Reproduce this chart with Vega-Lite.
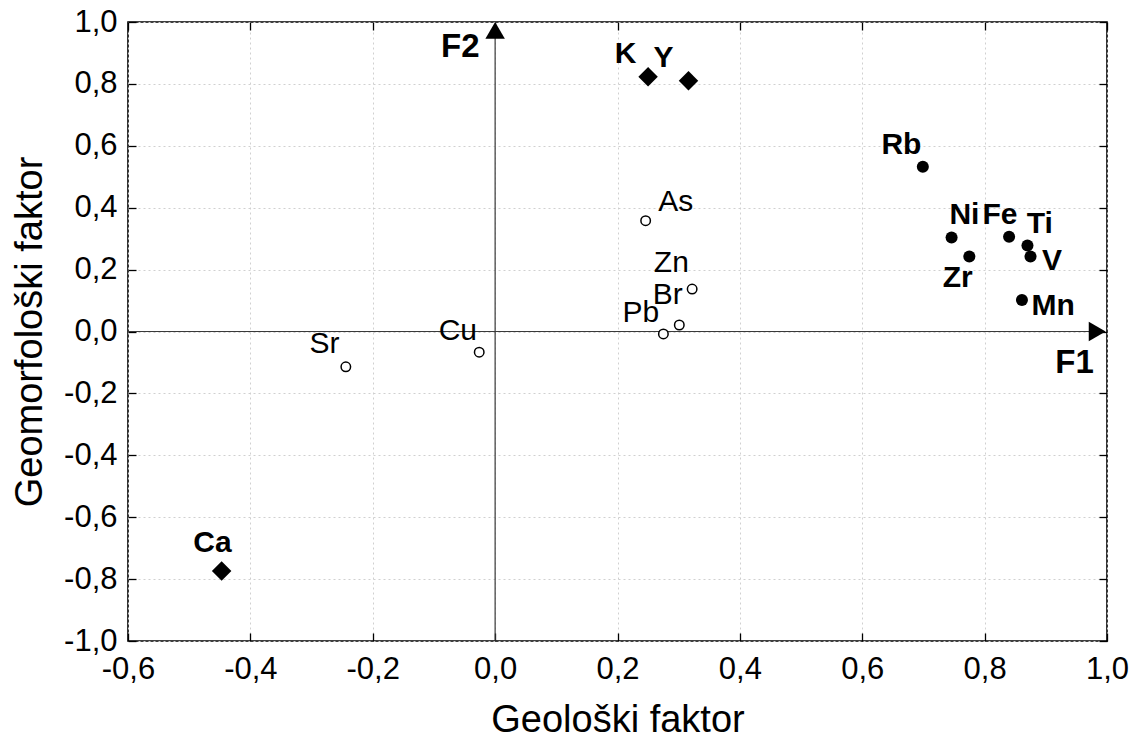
{
  "$schema": "https://vega.github.io/schema/vega-lite/v6.json",
  "width": 979,
  "height": 619,
  "autosize": {"type": "none"},
  "padding": {"left": 128, "top": 22, "right": 23, "bottom": 106},
  "background": "white",
  "config": {
    "view": {"stroke": "#000", "strokeWidth": 1.6},
    "font": "Liberation Sans",
    "locale": {"number": {"decimal": ",", "thousands": ".", "grouping": [3], "currency": ["", ""], "minus": "-"}},
    "axis": {"domain": false, "tickColor": "#000", "tickWidth": 1.3, "tickSize": -8, "labelColor": "#000", "titleColor": "#000", "labelFont": "Liberation Sans", "titleFont": "Liberation Sans", "labelFontSize": 31, "titleFontSize": 38, "titleFontWeight": "normal"}
  },
  "datasets": {
    "elements": [
      {"el": "K", "f1": 0.250, "f2": 0.823, "group": "diamond", "lx": 0.213, "ly": 0.898},
      {"el": "Y", "f1": 0.316, "f2": 0.810, "group": "diamond", "lx": 0.275, "ly": 0.884},
      {"el": "Ca", "f1": -0.447, "f2": -0.774, "group": "diamond", "lx": -0.462, "ly": -0.684},
      {"el": "Rb", "f1": 0.699, "f2": 0.532, "group": "filled", "lx": 0.664, "ly": 0.603},
      {"el": "Ni", "f1": 0.746, "f2": 0.304, "group": "filled", "lx": 0.767, "ly": 0.375},
      {"el": "Fe", "f1": 0.840, "f2": 0.306, "group": "filled", "lx": 0.825, "ly": 0.375},
      {"el": "Ti", "f1": 0.870, "f2": 0.278, "group": "filled", "lx": 0.890, "ly": 0.347},
      {"el": "V", "f1": 0.875, "f2": 0.242, "group": "filled", "lx": 0.910, "ly": 0.228},
      {"el": "Zr", "f1": 0.775, "f2": 0.242, "group": "filled", "lx": 0.756, "ly": 0.174},
      {"el": "Mn", "f1": 0.861, "f2": 0.102, "group": "filled", "lx": 0.912, "ly": 0.084},
      {"el": "As", "f1": 0.246, "f2": 0.358, "group": "open", "lx": 0.295, "ly": 0.419},
      {"el": "Zn", "f1": 0.322, "f2": 0.137, "group": "open", "lx": 0.288, "ly": 0.222},
      {"el": "Br", "f1": 0.301, "f2": 0.021, "group": "open", "lx": 0.282, "ly": 0.117},
      {"el": "Pb", "f1": 0.275, "f2": -0.008, "group": "open", "lx": 0.238, "ly": 0.060},
      {"el": "Cu", "f1": -0.026, "f2": -0.067, "group": "open", "lx": -0.061, "ly": 0.002},
      {"el": "Sr", "f1": -0.244, "f2": -0.114, "group": "open", "lx": -0.279, "ly": -0.042}
    ],
    "axes": [
      {"name": "F1", "x": -0.6, "x2": 0.975, "y": 0, "y2": 0, "ax": 0.984, "ay": 0, "shape": "triangle-right", "lx": 0.947, "ly": -0.103},
      {"name": "F2", "x": 0, "x2": 0, "y": -1, "y2": 0.96, "ax": 0, "ay": 0.973, "shape": "triangle-up", "lx": -0.057, "ly": 0.919}
    ]
  },
  "resolve": {"axis": {"x": "independent", "y": "independent"}},
  "layer": [
    {
      "data": {"name": "elements"},
      "mark": {"type": "point", "opacity": 0},
      "encoding": {
        "x": {"field": "f1", "type": "quantitative", "scale": {"domain": [-0.6, 1.0], "nice": false, "zero": false},
              "axis": {"orient": "bottom", "title": "Geološki faktor", "values": [-0.6, -0.4, -0.2, 0, 0.2, 0.4, 0.6, 0.8, 1.0], "format": ".1f", "labelPadding": 21, "titlePadding": 17, "grid": true, "gridColor": "#d0d0d0", "gridDash": [2, 3], "gridWidth": 1, "labelFlush": false}},
        "y": {"field": "f2", "type": "quantitative", "scale": {"domain": [-1.0, 1.0], "nice": false, "zero": false},
              "axis": {"orient": "left", "title": "Geomorfološki faktor", "values": [-1.0, -0.8, -0.6, -0.4, -0.2, 0, 0.2, 0.4, 0.6, 0.8, 1.0], "format": ".1f", "labelPadding": 19, "titlePadding": 14, "grid": true, "gridColor": "#d0d0d0", "gridDash": [2, 3], "gridWidth": 1, "labelFlush": false}}
      }
    },
    {
      "data": {"name": "elements"},
      "mark": {"type": "point", "opacity": 0},
      "encoding": {
        "x": {"field": "f1", "type": "quantitative", "axis": {"orient": "top", "title": null, "labels": false, "values": [-0.6, -0.4, -0.2, 0, 0.2, 0.4, 0.6, 0.8, 1.0], "grid": false}},
        "y": {"field": "f2", "type": "quantitative", "axis": {"orient": "right", "title": null, "labels": false, "values": [-1.0, -0.8, -0.6, -0.4, -0.2, 0, 0.2, 0.4, 0.6, 0.8, 1.0], "grid": false}}
      }
    },
    {
      "data": {"name": "axes"},
      "mark": {"type": "rule", "color": "#3a3a3a", "strokeWidth": 1.2},
      "encoding": {
        "x": {"field": "x", "type": "quantitative", "axis": null},
        "x2": {"field": "x2"},
        "y": {"field": "y", "type": "quantitative", "axis": null},
        "y2": {"field": "y2"}
      }
    },
    {
      "data": {"name": "axes"},
      "mark": {"type": "point", "filled": true, "color": "#000", "size": 380, "opacity": 1},
      "encoding": {
        "x": {"field": "ax", "type": "quantitative", "axis": null},
        "y": {"field": "ay", "type": "quantitative", "axis": null},
        "shape": {"field": "shape", "type": "nominal", "scale": null, "legend": null}
      }
    },
    {
      "data": {"name": "axes"},
      "mark": {"type": "text", "fontSize": 33, "fontWeight": "bold", "color": "#000", "align": "center", "baseline": "middle"},
      "encoding": {
        "x": {"field": "lx", "type": "quantitative", "axis": null},
        "y": {"field": "ly", "type": "quantitative", "axis": null},
        "text": {"field": "name"}
      }
    },
    {
      "data": {"name": "elements"},
      "transform": [{"filter": "datum.group === 'diamond'"}],
      "mark": {"type": "point", "shape": "diamond", "filled": true, "color": "#000", "size": 380, "opacity": 1},
      "encoding": {
        "x": {"field": "f1", "type": "quantitative", "axis": null},
        "y": {"field": "f2", "type": "quantitative", "axis": null}
      }
    },
    {
      "data": {"name": "elements"},
      "transform": [{"filter": "datum.group === 'filled'"}],
      "mark": {"type": "point", "shape": "circle", "filled": true, "color": "#000", "size": 145, "opacity": 1},
      "encoding": {
        "x": {"field": "f1", "type": "quantitative", "axis": null},
        "y": {"field": "f2", "type": "quantitative", "axis": null}
      }
    },
    {
      "data": {"name": "elements"},
      "transform": [{"filter": "datum.group === 'open'"}],
      "mark": {"type": "point", "shape": "circle", "filled": false, "color": "#000", "fill": "white", "fillOpacity": 1, "strokeWidth": 1.5, "size": 90, "opacity": 1},
      "encoding": {
        "x": {"field": "f1", "type": "quantitative", "axis": null},
        "y": {"field": "f2", "type": "quantitative", "axis": null}
      }
    },
    {
      "data": {"name": "elements"},
      "transform": [{"filter": "datum.group !== 'open'"}],
      "mark": {"type": "text", "fontSize": 30, "fontWeight": "bold", "color": "#000", "align": "center", "baseline": "middle"},
      "encoding": {
        "x": {"field": "lx", "type": "quantitative", "axis": null},
        "y": {"field": "ly", "type": "quantitative", "axis": null},
        "text": {"field": "el"}
      }
    },
    {
      "data": {"name": "elements"},
      "transform": [{"filter": "datum.group === 'open'"}],
      "mark": {"type": "text", "fontSize": 30, "fontWeight": "normal", "color": "#000", "align": "center", "baseline": "middle"},
      "encoding": {
        "x": {"field": "lx", "type": "quantitative", "axis": null},
        "y": {"field": "ly", "type": "quantitative", "axis": null},
        "text": {"field": "el"}
      }
    }
  ]
}
